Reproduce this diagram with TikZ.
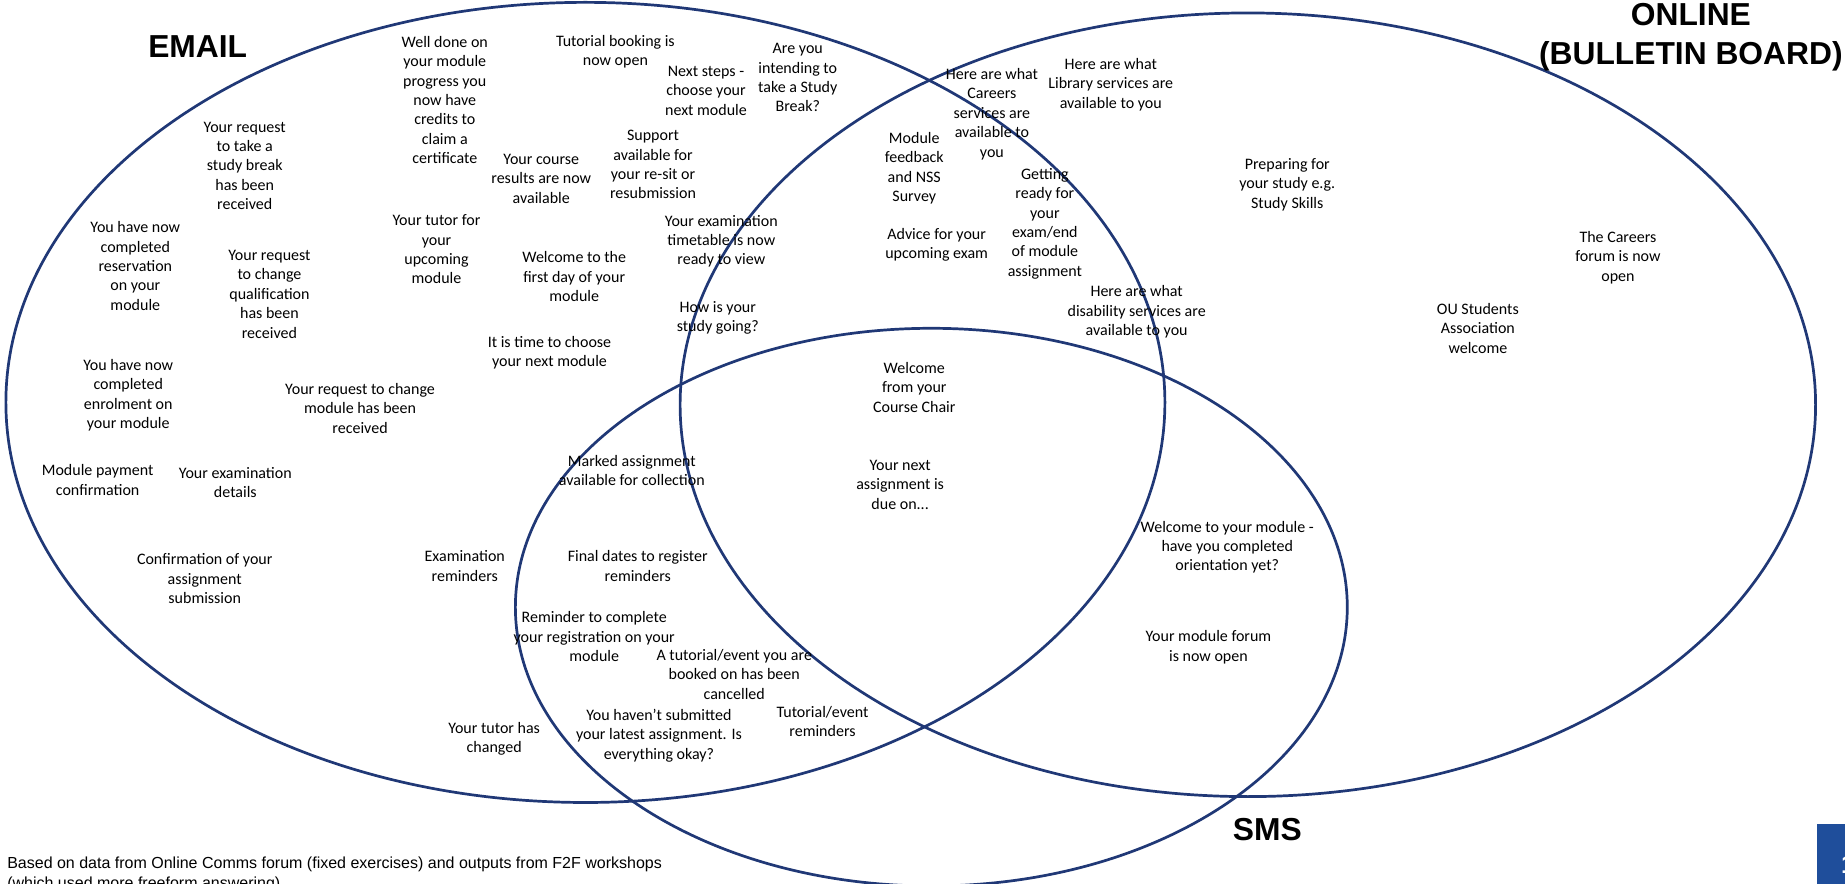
\documentclass[tikz,border=0pt]{standalone}
\usepackage{fontspec}
\setmainfont{Carlito}
\newfontfamily\headfont{Liberation Sans}
\definecolor{ringblue}{RGB}{32,56,118}
\definecolor{pageblue}{RGB}{31,78,155}

\begin{document}
\begin{tikzpicture}[x=1pt,y=-1pt,
		ring/.style={draw=ringblue,line width=2.3pt},
		msg/.style={align=center,inner sep=0pt,font=\fontsize{13.6}{16.5}\selectfont},
		head/.style={align=center,inner sep=0pt,font=\headfont\bfseries\fontsize{27}{33}\selectfont},
		note/.style={align=left,anchor=west,inner sep=0pt,font=\headfont\fontsize{13.6}{16.5}\selectfont}]
		\useasboundingbox (0,0) rectangle (1568,751);
		\draw[ring] (497.5,342) ellipse [x radius=492.5,y radius=340];
		\draw[ring] (1060.5,344) ellipse [x radius=482.5,y radius=333];
		\draw[ring] (791.5,516) ellipse [x radius=353.5,y radius=237];
		\node[head] (email) at (168,40) {EMAIL};
		\node[head] (online) at (1437,31.5) {ONLINE\\(BULLETIN BOARD)};
		\node[head] (sms) at (1077,705) {SMS};
		\node[msg] (welldone) at (378,85) {Well done on\\your module\\progress you\\now have\\credits to\\claim a\\certificate};
		\node[msg] (tutbook) at (523,44) {Tutorial booking is\\now open};
		\node[msg] (nextsteps) at (600,77) {Next steps -\\choose your\\next module};
		\node[msg] (studybreak) at (678,66) {Are you\\intending to\\take a Study\\Break?};
		\node[msg] (breakreq) at (208,141) {Your request\\to take a\\study break\\has been\\received};
		\node[msg] (results) at (460,152) {Your course\\results are now\\available};
		\node[msg] (resit) at (555,140) {Support\\available for\\your re-sit or\\resubmission};
		\node[msg] (reserve) at (115,226) {You have now\\completed\\reservation\\on your\\module};
		\node[msg] (qualreq) at (229,250) {Your request\\to change\\qualification\\has been\\received};
		\node[msg] (tutor) at (371,212) {Your tutor for\\your\\upcoming\\module};
		\node[msg] (firstday) at (488,235) {Welcome to the\\first day of your\\module};
		\node[msg] (timetable) at (613,205) {Your examination\\timetable is now\\ready to view};
		\node[msg] (howis) at (610,270) {How is your\\study going?};
		\node[msg] (choose) at (467,300) {It is time to choose\\your next module};
		\node[msg] (enrol) at (109,336) {You have now\\completed\\enrolment on\\your module};
		\node[msg] (modreq) at (306,347) {Your request to change\\module has been\\received};
		\node[msg] (payment) at (83,408) {Module payment\\confirmation};
		\node[msg] (examdet) at (200,410) {Your examination\\details};
		\node[msg] (submit) at (174,492) {Confirmation of your\\assignment\\submission};
		\node[msg] (examrem) at (395,481) {Examination\\reminders};
		\node[msg] (tutchg) at (420,628) {Your tutor has\\changed};
		\node[msg] (marked) at (537,400) {Marked assignment\\available for collection};
		\node[msg] (finaldates) at (542,481) {Final dates to register\\reminders};
		\node[msg] (regrem) at (505,541) {Reminder to complete\\your registration on your\\module};
		\node[msg] (cancel) at (624,573) {A tutorial/event you are\\booked on has been\\cancelled};
		\node[msg] (notsub) at (560,625) {You haven't submitted\\your latest assignment. Is\\everything okay?};
		\node[msg] (tutrem) at (699,613) {Tutorial/event\\reminders};
		\node[msg] (careers) at (843,97) {Here are what\\Careers\\services are\\available to\\you};
		\node[msg] (nss) at (777,143) {Module\\feedback\\and NSS\\Survey};
		\node[msg] (ready) at (888,190) {Getting\\ready for\\your\\exam/end\\of module\\assignment};
		\node[msg] (advice) at (796,208) {Advice for your\\upcoming exam};
		\node[msg] (library) at (944,72) {Here are what\\Library services are\\available to you};
		\node[msg] (disab) at (966,265) {Here are what\\disability services are\\available to you};
		\node[msg] (prepare) at (1094,157) {Preparing for\\your study e.g.\\Study Skills};
		\node[msg] (carforum) at (1375,219) {The Careers\\forum is now\\open};
		\node[msg] (ousa) at (1256,279) {OU Students\\Association\\welcome};
		\node[msg] (chair) at (777,329) {Welcome\\from your\\Course Chair};
		\node[msg] (nextass) at (765,412) {Your next\\assignment is\\due on...};
		\node[msg] (orient) at (1043,465) {Welcome to your module -\\have you completed\\orientation yet?};
		\node[msg] (modforum) at (1027,550) {Your module forum\\is now open};
		\node[note] (source) at (6,743) {Based on data from Online Comms forum (fixed exercises) and outputs from F2F workshops\\(which used more freeform answering)};
		\fill[pageblue] (1544,700) rectangle (1572,755);
		\node[anchor=north west,inner sep=0pt,text=white,font=\headfont\bfseries\fontsize{22}{26}\selectfont] (pagenum) at (1564.5,727) {1};
	\end{tikzpicture}
\end{document}
